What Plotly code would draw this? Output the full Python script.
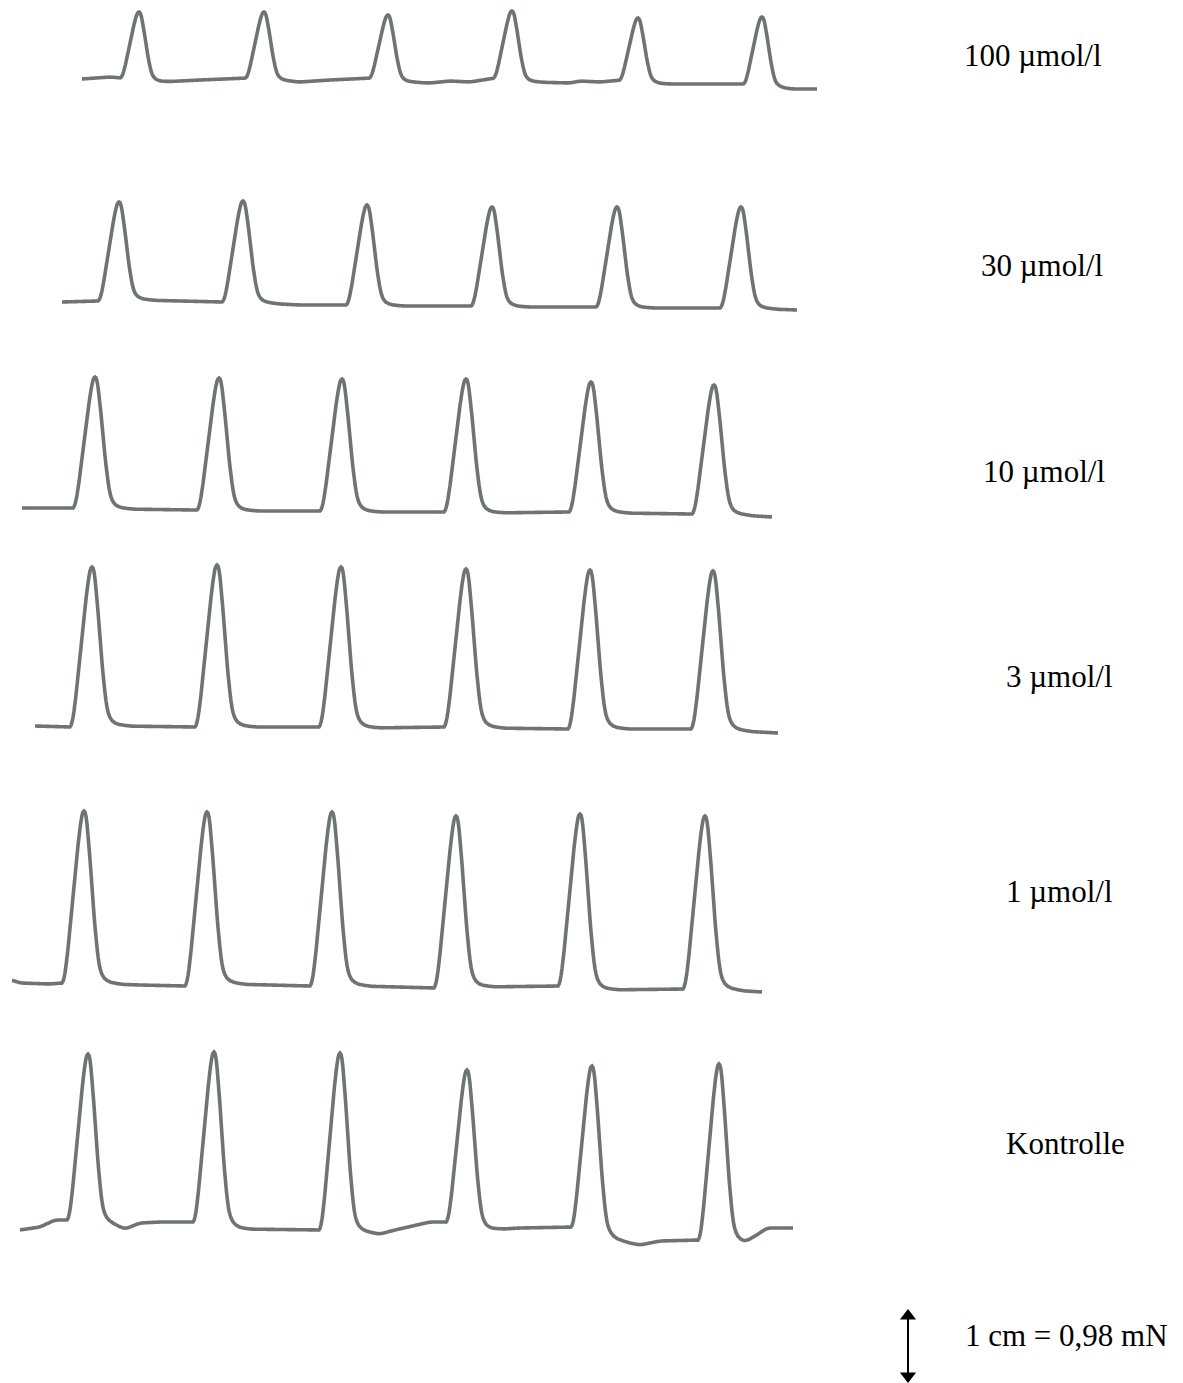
import numpy as np
import plotly.graph_objects as go

# Isometric contraction recordings, one trace per concentration (page pixel units:
# x = chart time axis, y = pen position, downward positive).
labels = ["100 µmol/l", "30 µmol/l", "10 µmol/l", "3 µmol/l", "1 µmol/l", "Kontrolle"]

peaks_x_100 = [139, 264, 388, 512, 638, 762]
peaks_y_100 = [12, 12, 15, 11, 18, 17]
base_x_100 = [82, 110, 122, 160, 200, 248, 285, 300, 330, 372, 405, 430, 450, 470, 495, 530, 570, 580, 600, 622, 660, 745, 780, 790, 817]
base_y_100 = [79, 77, 78, 82, 80, 78, 81, 82, 80, 78, 82, 83, 81, 82, 78, 82, 83, 81, 82, 80, 84, 84, 88, 89, 89]

peaks_x_30 = [119, 243, 367, 492, 617, 741]
peaks_y_30 = [202, 201, 205, 207, 207, 207]
base_x_30 = [62, 98, 140, 180, 222, 260, 300, 346, 400, 472, 520, 596, 640, 720, 770, 797]
base_y_30 = [302, 301, 300, 301, 302, 303, 305, 305, 306, 306, 307, 307, 308, 308, 309, 310]

peaks_x_10 = [95, 219, 342, 466, 591, 714]
peaks_y_10 = [377, 378, 379, 379, 382, 385]
base_x_10 = [22, 70, 120, 195, 240, 320, 370, 444, 490, 568, 620, 690, 740, 772]
base_y_10 = [508, 508, 509, 510, 511, 511, 512, 512, 513, 512, 513, 514, 515, 517]

peaks_x_3 = [92, 217, 341, 466, 590, 713]
peaks_y_3 = [567, 565, 567, 569, 570, 571]
base_x_3 = [35, 70, 120, 196, 240, 321, 370, 445, 490, 568, 620, 692, 740, 778]
base_y_3 = [726, 727, 726, 727, 727, 727, 728, 727, 728, 729, 729, 729, 731, 733]

peaks_x_1 = [84, 207, 332, 456, 580, 705]
peaks_y_1 = [811, 812, 812, 816, 814, 816]
base_x_1 = [12, 20, 50, 62, 110, 140, 185, 230, 310, 360, 435, 480, 560, 600, 685, 730, 762]
base_y_1 = [980, 983, 984, 983, 984, 985, 986, 984, 986, 986, 988, 987, 986, 990, 989, 990, 992]

peaks_x_k = [88, 214, 340, 467, 592, 719]
peaks_y_k = [1054, 1052, 1053, 1070, 1066, 1064]
base_x_k = [20, 40, 55, 70, 110, 125, 140, 160, 197, 240, 322, 360, 380, 395, 430, 448, 487, 520, 575, 615, 640, 660, 700, 745, 767, 793]
base_y_k = [1230, 1227, 1220, 1220, 1224, 1229, 1223, 1222, 1222, 1229, 1230, 1232, 1234, 1230, 1222, 1222, 1230, 1228, 1227, 1240, 1245, 1241, 1240, 1243, 1228, 1228]

scale_label = "1 cm = 0,98 mN"

# Shape of a single twitch: offset from the peak vs. fraction of the peak height
pulse_dx = [-22, -21, -20, -19, -18, -17, -16, -15, -14, -13, -12, -11, -10, -9, -8, -7, -6, -5, -4, -3, -2, -1, 0,
            1, 2, 3, 4, 5, 6, 7, 8, 9, 10, 11, 12, 13, 14, 15, 16, 17, 18, 20, 23, 27, 33, 40]
pulse_fr = [0, 0.01, 0.03, 0.06, 0.10, 0.15, 0.20, 0.26, 0.32, 0.38, 0.44, 0.50, 0.56, 0.62, 0.68, 0.74, 0.80, 0.85, 0.90, 0.94, 0.975, 0.994, 1.0,
            0.994, 0.97, 0.925, 0.86, 0.79, 0.72, 0.64, 0.56, 0.48, 0.40, 0.33, 0.27, 0.21, 0.16, 0.12, 0.09, 0.07, 0.055, 0.035, 0.02, 0.01, 0.004, 0]

recordings = [
    (peaks_x_100, peaks_y_100, base_x_100, base_y_100, 0.85),
    (peaks_x_30, peaks_y_30, base_x_30, base_y_30, 0.95),
    (peaks_x_10, peaks_y_10, base_x_10, base_y_10, 1.0),
    (peaks_x_3, peaks_y_3, base_x_3, base_y_3, 1.0),
    (peaks_x_1, peaks_y_1, base_x_1, base_y_1, 1.0),
    (peaks_x_k, peaks_y_k, base_x_k, base_y_k, 0.95),
]

label_x = [962, 979, 981, 1004, 1004, 1004]
label_y = [55, 265, 471, 676, 891, 1143]


def smooth(v, n):
    """Moving average with edge padding, to round off the pen's baseline drift."""
    k = np.ones(n) / n
    pad = n // 2
    vp = np.concatenate([np.full(pad, v[0]), v, np.full(n - 1 - pad, v[-1])])
    return np.convolve(vp, k, mode="valid")


def build_trace(px, py, bx, by, wscale):
    step = 0.5
    x = np.arange(bx[0], bx[-1] + step / 2, step)
    base = smooth(np.interp(x, bx, by), 17)
    y = base.copy()
    dx = np.array(pulse_dx) * wscale
    for p, h in zip(px, py):
        amp = np.interp(p, x, base) - h
        y -= amp * np.interp(x - p, dx, pulse_fr, left=0, right=0)
    return x, y


fig = go.Figure()
for (px, py, bx, by, ws) in recordings:
    x, y = build_trace(px, py, bx, by, ws)
    fig.add_trace(go.Scatter(
        x=x, y=y, mode="lines",
        line=dict(color="#6e7474", width=3.6, shape="linear", simplify=False),
        hoverinfo="skip", showlegend=False,
    ))

for text, lx, ly in zip(labels, label_x, label_y):
    fig.add_annotation(x=lx, y=ly, text=text, showarrow=False, xanchor="left", yanchor="middle",
                       font=dict(family="Liberation Serif, Times New Roman, serif", size=31, color="black"))

# Force calibration bar
fig.add_trace(go.Scatter(x=[908, 908], y=[1318, 1374], mode="lines",
                         line=dict(color="black", width=2), hoverinfo="skip", showlegend=False))
fig.add_trace(go.Scatter(x=[908, 908], y=[1316, 1376], mode="markers",
                         marker=dict(symbol=["triangle-up", "triangle-down"], size=14, color="black"),
                         hoverinfo="skip", showlegend=False))
fig.add_annotation(x=963, y=1335, text=scale_label, showarrow=False, xanchor="left", yanchor="middle",
                   font=dict(family="Liberation Serif, Times New Roman, serif", size=31, color="black"))

fig.update_layout(
    width=1183, height=1383,
    margin=dict(l=0, r=0, t=0, b=0),
    paper_bgcolor="white", plot_bgcolor="white",
    xaxis=dict(range=[0, 1183], visible=False, fixedrange=True),
    yaxis=dict(range=[1383, 0], visible=False, fixedrange=True),
)

fig.write_html("out.html")
